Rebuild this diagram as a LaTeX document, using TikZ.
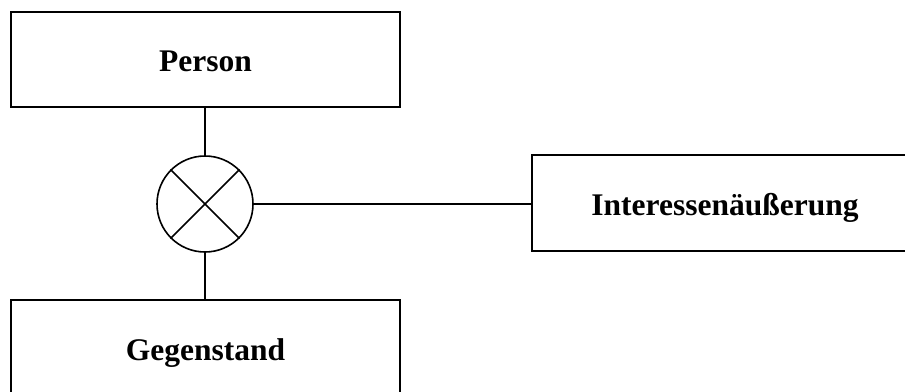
\documentclass[tikz,border=0pt]{standalone}
\usepackage{fontspec}
\setmainfont{Liberation Serif}
\begin{document}
\begin{tikzpicture}[x=1pt,y=-1pt,
  box/.style={draw,line width=1.6pt,rectangle,inner sep=0pt,text height=24pt,text depth=0pt,font=\fontsize{31.5}{36}\selectfont\bfseries},
  conn/.style={line width=1.6pt}]
\clip (0,0) rectangle (905,391);
\useasboundingbox (0,0) rectangle (905,391);
\node[box,minimum width=389pt,minimum height=95pt] (person) at (205.5,59.5) {Person};
\node[box,minimum width=389pt,minimum height=96pt] (gegen) at (205.5,348) {Gegenstand};
\node[box,minimum width=386pt,minimum height=96pt] (inter) at (725,203) {Interessenäußerung};
\node[draw,circle,line width=1.6pt,minimum size=96pt,inner sep=0pt] (op) at (205,204) {};
\draw[conn] (op.45) -- (op.225);
\draw[conn] (op.135) -- (op.315);
\draw[conn] (person.south -| op.north) -- (op.north);
\draw[conn] (op.south) -- (gegen.north -| op.south);
\draw[conn] (op.east) -- (inter.west |- op.east);
\end{tikzpicture}
\end{document}
